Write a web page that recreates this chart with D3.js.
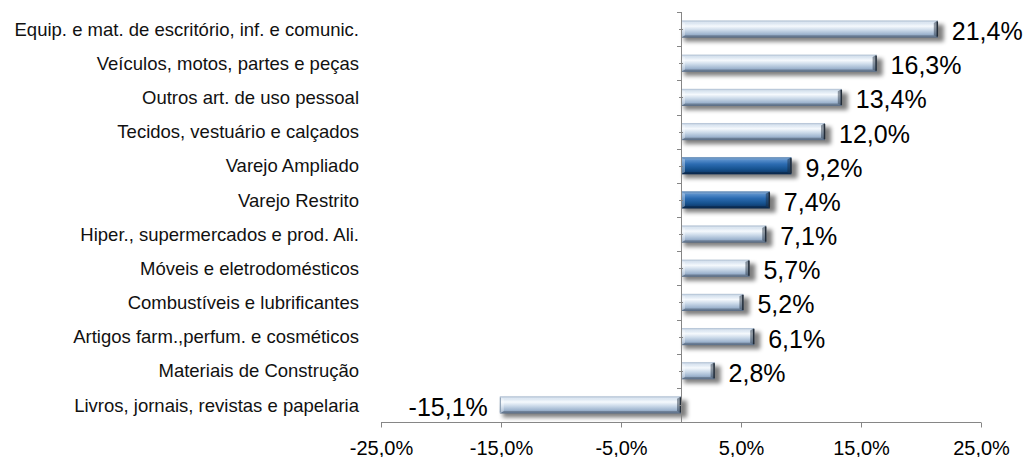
<!DOCTYPE html>
<html><head><meta charset="utf-8">
<script src="https://cdn.jsdelivr.net/npm/d3@7"></script>
<style>body{margin:0;background:#fff;}svg{display:block;font-family:"Liberation Sans",Arial,sans-serif;}</style>
</head><body>
<svg id="c" width="1028" height="457"></svg>
<script>
const categories = ["Equip. e mat. de escritório, inf. e comunic.","Veículos, motos, partes e peças","Outros art. de uso pessoal","Tecidos, vestuário e calçados","Varejo Ampliado","Varejo Restrito","Hiper., supermercados e prod. Ali.","Móveis e eletrodomésticos","Combustíveis e lubrificantes","Artigos farm.,perfum. e cosméticos","Materiais de Construção","Livros, jornais, revistas e papelaria"];
const values = [21.4,16.3,13.4,12.0,9.2,7.4,7.1,5.7,5.2,6.1,2.8,-15.1];
const valueLabels = ["21,4%","16,3%","13,4%","12,0%","9,2%","7,4%","7,1%","5,7%","5,2%","6,1%","2,8%","-15,1%"];
const highlighted = ["Varejo Ampliado","Varejo Restrito"];
const tickValues = [-25,-15,-5,5,15,25];
const tickLabels = ["-25,0%","-15,0%","-5,0%","5,0%","15,0%","25,0%"];

const svg = d3.select("#c");
const x = d3.scaleLinear().domain([-25,25]).range([381,981]);
const y = d3.scaleBand().domain(categories).range([12,422]).paddingInner(0.5).paddingOuter(0.25);

const defs = svg.append("defs");
const f = defs.append("filter").attr("id","sh").attr("x","-10%").attr("y","-60%").attr("width","120%").attr("height","220%");
f.append("feGaussianBlur").attr("stdDeviation",2.2);
function grad(id, stops){
  const g = defs.append("linearGradient").attr("id",id).attr("x1",0).attr("y1",0).attr("x2",0).attr("y2",1);
  stops.forEach(s=>g.append("stop").attr("offset",s[0]).attr("stop-color",s[1]));
}
grad("gl",[[0,"#98adc6"],[0.12,"#d6e2ef"],[0.33,"#f5f9fd"],[0.55,"#cddbea"],[0.8,"#9fb5cf"],[1,"#6f88a8"]]);
grad("gd",[[0,"#356aa3"],[0.15,"#5a90cc"],[0.4,"#2c6cb2"],[0.7,"#16528f"],[1,"#0b2f5c"]]);

const data = categories.map((c,i)=>({c, v:values[i], l:valueLabels[i], hi:highlighted.includes(c)}));
const bh = y.bandwidth();

const g = svg.append("g");
data.forEach(d=>{
  const x0 = x(Math.min(0,d.v)), x1 = x(Math.max(0,d.v)), y0 = y(d.c), y1 = y0+bh;
  g.append("rect").attr("x",x0+3).attr("y",y0+4).attr("width",x1-x0+3).attr("height",bh)
    .attr("fill","#000").attr("opacity",0.5).attr("filter","url(#sh)");
  g.append("rect").attr("x",x0).attr("y",y0).attr("width",x1-x0).attr("height",bh)
    .attr("fill",d.hi?"url(#gd)":"url(#gl)");
  const b = 4;
  g.append("polygon").attr("points",[[x0,y0],[x1,y0],[x1-b,y0+b*0.6],[x0+b,y0+b*0.6]].join(" "))
    .attr("fill","#fff").attr("opacity",0.2);
  g.append("polygon").attr("points",[[x0,y1],[x1,y1],[x1-b,y1-b*0.6],[x0+b,y1-b*0.6]].join(" "))
    .attr("fill","#000").attr("opacity",0.2);
  g.append("polygon").attr("points",[[x0,y0],[x0+b,y0+b*0.6],[x0+b,y1-b*0.6],[x0,y1]].join(" "))
    .attr("fill","#fff").attr("opacity",0.35);
  g.append("polygon").attr("points",[[x1,y0],[x1-b,y0+b*0.6],[x1-b,y1-b*0.6],[x1,y1]].join(" "))
    .attr("fill","#1d2a3a").attr("opacity",0.45);
  g.append("line").attr("x1",x1-0.5).attr("x2",x1-0.5).attr("y1",y0+1).attr("y2",y1-1)
    .attr("stroke","#222c38").attr("stroke-width",1.5);
  g.append("line").attr("x1",x0+0.5).attr("x2",x0+0.5).attr("y1",y0+1).attr("y2",y1-1)
    .attr("stroke","#8094ab").attr("stroke-width",1);
});

// vertical axis at 0
const ax = svg.append("g").attr("stroke","#868686").attr("stroke-width",1);
ax.append("line").attr("x1",x(0)+0.5).attr("x2",x(0)+0.5).attr("y1",12).attr("y2",422);
for(let i=0;i<=categories.length;i++){
  const yy = Math.round(12 + i*410/categories.length)+0.5;
  ax.append("line").attr("x1",x(0)-4).attr("x2",x(0)+0.5).attr("y1",yy).attr("y2",yy);
}
categories.forEach(c=>{
  const yy = Math.round(y(c)+bh/2)+0.5;
  ax.append("line").attr("x1",x(0)-2).attr("x2",x(0)+2).attr("y1",yy).attr("y2",yy);
});

// bottom axis
const xAxis = d3.axisBottom(x).tickValues(tickValues).tickFormat((d,i)=>tickLabels[i]).tickSize(5).tickSizeOuter(0);
const xa = svg.append("g").attr("transform","translate(0,422.5)").call(xAxis);
xa.select(".domain").attr("stroke","#868686").attr("d",`M${x(-25)},0H${x(25)}`);
xa.selectAll(".tick line").attr("stroke","#868686");
xa.selectAll(".tick text").attr("font-size",20).attr("fill","#000").attr("y",32).attr("dy",0)
  .attr("font-family","'Liberation Sans',Arial,sans-serif");

// category labels
svg.append("g").selectAll("text").data(data).join("text")
  .attr("x",359).attr("y",d=>y(d.c)+bh/2).attr("dy","0.36em")
  .attr("text-anchor","end").attr("font-size",18.5).attr("fill","#111").text(d=>d.c);

// value labels
svg.append("g").selectAll("text").data(data).join("text")
  .attr("x",d=>d.v>=0? x(d.v)+14 : x(d.v)-12)
  .attr("y",d=>y(d.c)+bh/2+2).attr("dy","0.36em")
  .attr("text-anchor",d=>d.v>=0?"start":"end")
  .attr("font-size",25).attr("fill","#000").text(d=>d.l);
</script>
</body></html>
